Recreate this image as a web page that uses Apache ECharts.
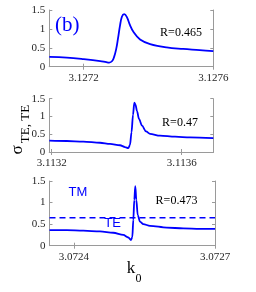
<!DOCTYPE html>
<html>
<head>
<meta charset="utf-8">
<script src="https://cdn.jsdelivr.net/npm/echarts@6/dist/echarts.min.js"></script>
<style>
html,body{margin:0;padding:0;background:#fff;}
#c{width:256px;height:292px;}
</style>
</head>
<body>
<div id="c"></div>
<script>
// Panel 1 (R=0.465)
var k1 = [3.127094, 3.127148, 3.1272, 3.127251, 3.127270, 3.127279, 3.127288, 3.127294, 3.127300, 3.127306, 3.127312, 3.127318, 3.127325, 3.127333, 3.127343, 3.127353, 3.127374, 3.127405, 3.127456, 3.127507, 3.127558, 3.1276];
var s1 = [0.26, 0.24, 0.20, 0.15, 0.12, 0.11, 0.15, 0.26, 0.45, 0.75, 1.08, 1.32, 1.39, 1.32, 1.10, 0.93, 0.72, 0.60, 0.51, 0.47, 0.44, 0.41];
var ticks1 = [3.1272, 3.1276];
var range1 = [3.127094, 3.1276];

// Panel 2 (R=0.47)
var k2 = [3.1131926, 3.1132462, 3.1132972, 3.1133486, 3.1133794, 3.1134102, 3.1134255, 3.1134357, 3.1134409, 3.1134455, 3.1134502, 3.1134542, 3.1134578, 3.1134625, 3.1134686, 3.1134778, 3.1134902, 3.1135025, 3.1135332, 3.1135794, 3.1136255, 3.1136972];
var s2 = [0.32, 0.31, 0.29, 0.26, 0.23, 0.19, 0.14, 0.11, 0.20, 0.55, 1.05, 1.39, 1.33, 1.15, 0.93, 0.74, 0.58, 0.51, 0.46, 0.43, 0.41, 0.39];
var ticks2 = [3.1132, 3.1136];
var range2 = [3.1131926, 3.1136972];

// Panel 3 (R=0.473)
var k3 = [3.0723479, 3.0723845, 3.0724198, 3.0724553, 3.0724836, 3.0725049, 3.0725156, 3.0725213, 3.0725241, 3.0725262, 3.0725283, 3.0725304, 3.0725326, 3.0725356, 3.0725404, 3.0725475, 3.0725617, 3.0725973, 3.0726326, 3.0726681, 3.0727];
var s3 = [0.36, 0.36, 0.35, 0.33, 0.30, 0.25, 0.19, 0.13, 0.20, 0.60, 1.06, 1.38, 1.06, 0.71, 0.56, 0.50, 0.46, 0.42, 0.40, 0.39, 0.39];
var te3 = [0.65, 0.65];
var ticks3 = [3.0724, 3.0727];
var range3 = [3.0723479, 3.0727];

var yTicks = [0, 0.5, 1, 1.5];
var rLabels = ['R=0.465', 'R=0.47', 'R=0.473'];

var BLUE = '#0000ff';
var AX = '#9a9a9a';
var TXT = '#262626';
var SERIF = '"Liberation Serif", "Times New Roman", serif';

var grids = [
  {left: 49.3, top: 10, width: 164, height: 56.7},
  {left: 49.3, top: 98.7, width: 164, height: 53.3},
  {left: 49.5, top: 181, width: 165.5, height: 64.7}
];
var ranges = [range1, range2, range3];
var xticks = [ticks1, ticks2, ticks3];

var xAxes = [], yAxes = [];
grids.forEach(function (g, i) {
  xAxes.push({
    type: 'value', gridIndex: i, position: 'bottom',
    min: ranges[i][0], max: ranges[i][1],
    axisLine: {show: true, lineStyle: {color: AX, width: 1}},
    axisTick: {show: true, inside: true, length: 3, customValues: xticks[i], lineStyle: {color: AX}},
    axisLabel: {show: true, customValues: xticks[i], margin: 6, color: TXT, fontFamily: SERIF, fontSize: 11,
      formatter: function (v) { return v.toFixed(4); }},
    splitLine: {show: false}
  });
  xAxes.push({
    type: 'value', gridIndex: i, position: 'top',
    min: ranges[i][0], max: ranges[i][1],
    axisLine: {show: true, lineStyle: {color: AX, width: 1}},
    axisTick: {show: true, inside: true, length: 3, customValues: xticks[i], lineStyle: {color: AX}},
    axisLabel: {show: false},
    splitLine: {show: false}
  });
  yAxes.push({
    type: 'value', gridIndex: i, position: 'left',
    min: 0, max: 1.5, interval: 0.5,
    axisLine: {show: true, lineStyle: {color: AX, width: 1}},
    axisTick: {show: true, inside: true, length: 3, lineStyle: {color: AX}},
    axisLabel: {show: true, margin: 4, color: TXT, fontFamily: SERIF, fontSize: 11,
      formatter: function (v) { return String(v); }},
    splitLine: {show: false}
  });
  yAxes.push({
    type: 'value', gridIndex: i, position: 'right',
    min: 0, max: 1.5, interval: 0.5,
    axisLine: {show: true, lineStyle: {color: AX, width: 1}},
    axisTick: {show: true, inside: true, length: 3, lineStyle: {color: AX}},
    axisLabel: {show: false},
    splitLine: {show: false}
  });
});

function pairs(xs, ys) { return xs.map(function (x, j) { return [x, ys[j]]; }); }

var series = [
  {type: 'line', xAxisIndex: 0, yAxisIndex: 0, data: pairs(k1, s1), showSymbol: false, smooth: 0.4,
    lineStyle: {color: BLUE, width: 1.8}},
  {type: 'line', xAxisIndex: 2, yAxisIndex: 2, data: pairs(k2, s2), showSymbol: false, smooth: 0.3, smoothMonotone: 'x',
    lineStyle: {color: BLUE, width: 1.8}},
  {type: 'line', xAxisIndex: 4, yAxisIndex: 4, data: pairs(k3, s3), showSymbol: false, smooth: 0.3, smoothMonotone: 'x',
    lineStyle: {color: BLUE, width: 1.8}},
  {type: 'line', xAxisIndex: 4, yAxisIndex: 4, data: pairs(range3, te3), showSymbol: false,
    lineStyle: {color: BLUE, width: 1.5, type: [6, 4]}}
];

var chart = echarts.init(document.getElementById('c'), null, {renderer: 'canvas'});
chart.setOption({
  backgroundColor: '#ffffff',
  animation: false,
  grid: grids,
  xAxis: xAxes,
  yAxis: yAxes,
  series: series,
  graphic: [
    {type: 'text', left: 55, top: 15, style: {text: '(b)', fill: BLUE, fontFamily: SERIF, fontSize: 21}},
    {type: 'text', x: 181, y: 33, style: {text: rLabels[0], fill: '#000', fontFamily: SERIF, fontSize: 12, align: 'center', verticalAlign: 'middle'}},
    {type: 'text', x: 180, y: 123, style: {text: rLabels[1], fill: '#000', fontFamily: SERIF, fontSize: 12, align: 'center', verticalAlign: 'middle'}},
    {type: 'text', x: 176.5, y: 201, style: {text: rLabels[2], fill: '#000', fontFamily: SERIF, fontSize: 12, align: 'center', verticalAlign: 'middle'}},
    {type: 'text', x: 78, y: 192, style: {text: 'TM', fill: BLUE, fontFamily: '"Liberation Sans", Arial, sans-serif', fontSize: 13, align: 'center', verticalAlign: 'middle'}},
    {type: 'text', x: 112.5, y: 223.5, style: {text: 'TE', fill: BLUE, fontFamily: '"Liberation Sans", Arial, sans-serif', fontSize: 13, align: 'center', verticalAlign: 'middle'}},
    {type: 'text', x: 18, y: 150, rotation: Math.PI / 2, style: {text: 'σ', fill: '#000', fontFamily: SERIF, fontSize: 17, align: 'center', verticalAlign: 'middle'}},
    {type: 'text', x: 25.5, y: 124, rotation: Math.PI / 2, style: {text: 'TE, TE', fill: '#000', fontFamily: SERIF, fontSize: 13, align: 'center', verticalAlign: 'middle'}},
    {type: 'text', x: 131, y: 269, style: {text: 'k', fill: '#000', fontFamily: SERIF, fontSize: 17, align: 'center', verticalAlign: 'middle'}},
    {type: 'text', x: 138.5, y: 279, style: {text: '0', fill: '#000', fontFamily: SERIF, fontSize: 12, align: 'center', verticalAlign: 'middle'}}
  ]
});
</script>
</body>
</html>
